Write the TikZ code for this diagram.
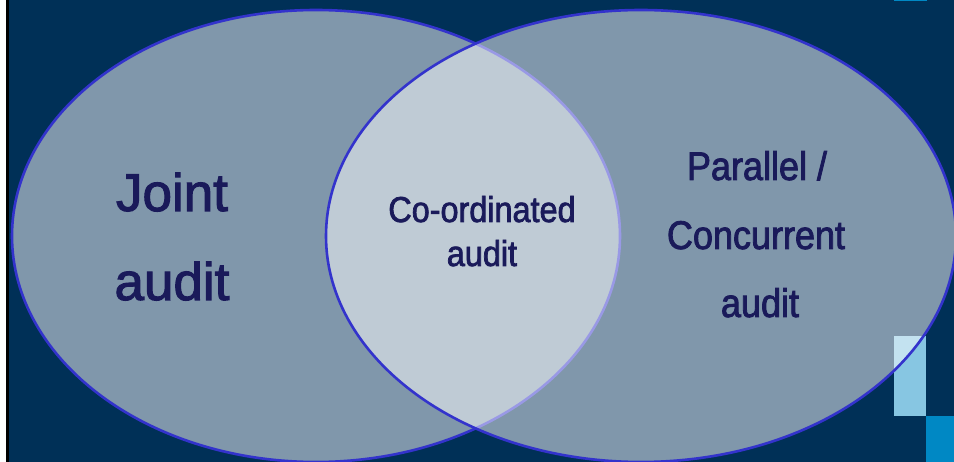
\documentclass[tikz,border=0pt]{standalone}
\usepackage{fontspec}
\setmainfont{Liberation Sans}
\newfontfamily\regfont[FakeBold=2]{Liberation Sans}
\newfontfamily\condfont[FakeStretch=0.9,FakeBold=2]{Liberation Sans}
\usetikzlibrary{shapes.geometric}
\definecolor{navybg}{HTML}{003057}
\definecolor{accentblue}{HTML}{0088C4}
\definecolor{lightsq}{HTML}{87C6E2}
\definecolor{vennline}{HTML}{3333CC}
\definecolor{txtcol}{HTML}{1A1A5A}
\tikzset{
  venn/.style={ellipse, draw=vennline, line width=2.6pt, fill=white, fill opacity=0.5, inner sep=0pt},
  lbl/.style={text=txtcol, anchor=base, inner sep=0pt},
}
\begin{document}
\begin{tikzpicture}[x=1pt,y=-1pt]
\useasboundingbox (0,0) rectangle (954,462);
\fill[white] (0,0) rectangle (954,462);
\fill[navybg] (8,0) rectangle (954,462);
\fill[black] (6,0) rectangle (9,462);
\fill[accentblue] (894,0) rectangle (927,1);
\fill[lightsq] (894,336) rectangle (926,416);
\fill[accentblue] (926,416) rectangle (954,462);
\node[venn, minimum width=608pt, minimum height=452pt] (left) at (316,236) {};
\node[venn, minimum width=630pt, minimum height=452pt] (right) at (641,236) {};
\node[lbl, font=\regfont\fontsize{53}{60}\selectfont] (joint1) at (172,211) {Joint};
\node[lbl, font=\regfont\fontsize{53}{60}\selectfont] (joint2) at (172,300) {audit};
\node[lbl, font=\condfont\fontsize{36}{40}\selectfont] (coord1) at (482,222) {Co-ordinated};
\node[lbl, font=\condfont\fontsize{36}{40}\selectfont] (coord2) at (482,266) {audit};
\node[lbl, font=\condfont\fontsize{40}{44}\selectfont] (par1) at (757,180) {Parallel /};
\node[lbl, font=\condfont\fontsize{40}{44}\selectfont] (par2) at (756,249) {Concurrent};
\node[lbl, font=\condfont\fontsize{40}{44}\selectfont] (par3) at (760,317) {audit};
\end{tikzpicture}
\end{document}
